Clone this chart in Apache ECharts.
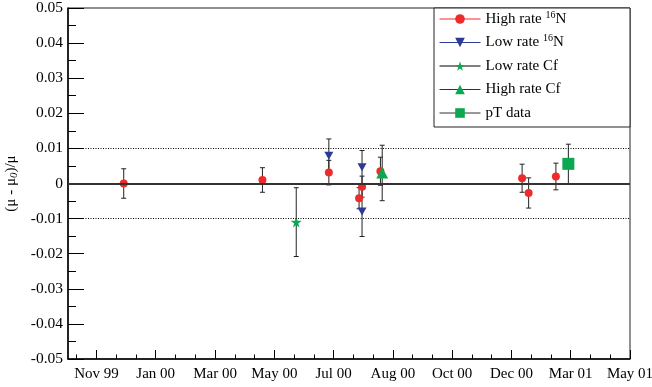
<!DOCTYPE html>
<html>
<head>
<meta charset="utf-8">
<script src="https://cdn.jsdelivr.net/npm/echarts@6/dist/echarts.min.js"></script>
<style>
  html, body { margin: 0; padding: 0; background: #fff; }
  #main { width: 652px; height: 387px; }
</style>
</head>
<body>
<div id="main"></div>
<script>
// x axis: month labels sit at 0..9 (evenly spaced, as on the original time axis)
var monthLabels = ['Nov 99', 'Jan 00', 'Mar 00', 'May 00', 'Jul 00', 'Aug 00', 'Oct 00', 'Dec 00', 'Mar 01', 'May 01'];
var majorTicks = [0, 1, 2, 3, 4, 5, 6, 7, 8, 9];
var minorTicks = [-1/3, 1/3, 2/3, 4/3, 5/3, 7/3, 8/3, 10/3, 11/3, 13/3, 14/3, 16/3, 17/3, 19/3, 20/3, 22/3, 23/3, 25/3, 26/3];

// High rate 16N
var highNx   = [0.46, 2.80, 3.92, 4.48, 4.43, 4.79, 7.18, 7.29, 7.75];
var highNy   = [0.0000, 0.0010, 0.0031, -0.0009, -0.0042, 0.0035, 0.0015, -0.0027, 0.0020];
var highNerr = [0.0042, 0.0035, 0.0035, 0.0030, 0.0030, 0.0040, 0.0040, 0.0043, 0.0038];

// Low rate 16N
var lowNx   = [3.92, 4.48, 4.48];
var lowNy   = [0.0079, 0.0046, -0.0080];
var lowNerr = [0.0048, 0.0048, 0.0071];

// Low rate Cf
var lowCfx   = [3.37];
var lowCfy   = [-0.0110];
var lowCferr = [0.0098];

// High rate Cf
var highCfx   = [4.82];
var highCfy   = [0.0030];
var highCferr = [0.0079];

// pT data
var ptx   = [7.96];
var pty   = [0.0056];
var pterr = [0.0056];

var serif = 'Liberation Serif';
var red = '#ee2b2b', blue = '#2b3a96', green = '#0aa850';
var starPath = 'path://M50,0 L61,35 L98,35 L68,57 L79,91 L50,70 L21,91 L32,57 L2,35 L39,35 Z';
var downTri = 'path://M0,0 L10,0 L5,9 Z';

function pts(xs, ys) {
  var out = [];
  for (var i = 0; i < xs.length; i++) out.push([xs[i], ys[i]]);
  return out;
}
function errs(xs, ys, es) {
  var out = [];
  for (var i = 0; i < xs.length; i++) out.push([xs[i], ys[i], es[i]]);
  return out;
}

var allErr = [].concat(
  errs(highNx, highNy, highNerr),
  errs(lowNx, lowNy, lowNerr),
  errs(lowCfx, lowCfy, lowCferr),
  errs(highCfx, highCfy, highCferr),
  errs(ptx, pty, pterr)
);

function drawErr(params, api) {
  var x = api.value(0), y = api.value(1), e = api.value(2);
  var t = api.coord([x, y + e]);
  var b = api.coord([x, y - e]);
  var st = { stroke: '#222', lineWidth: 1 };
  return {
    type: 'group',
    children: [
      { type: 'line', shape: { x1: t[0], y1: t[1], x2: b[0], y2: b[1] }, style: st },
      { type: 'line', shape: { x1: t[0] - 2.5, y1: t[1], x2: t[0] + 2.5, y2: t[1] }, style: st },
      { type: 'line', shape: { x1: b[0] - 2.5, y1: b[1], x2: b[0] + 2.5, y2: b[1] }, style: st }
    ]
  };
}

var hidden = { opacity: 0, width: 0 };

var myChart = echarts.init(document.getElementById('main'));
myChart.setOption({
  animation: false,
  grid: {
    left: 68, right: 22, top: 8, bottom: 28,
    outerBoundsMode: 'none',
    show: true, borderColor: '#222', borderWidth: 1
  },
  xAxis: [{
    type: 'value',
    min: -0.48, max: 9,
    position: 'bottom',
    splitLine: { show: false },
    axisLine: { onZero: false, lineStyle: { color: '#000', width: 1.5 } },
    axisTick: { inside: true, length: 9, customValues: majorTicks, lineStyle: { color: '#000' } },
    axisLabel: {
      customValues: majorTicks,
      margin: 8,
      fontFamily: serif, fontSize: 15, color: '#000',
      formatter: function (v) { return monthLabels[Math.round(v)]; }
    }
  }, {
    type: 'value',
    min: -0.48, max: 9,
    position: 'bottom',
    splitLine: { show: false },
    axisLine: { show: false, onZero: false },
    axisLabel: { show: false },
    axisTick: { inside: true, length: 4.5, customValues: minorTicks, lineStyle: { color: '#000' } }
  }],
  yAxis: {
    type: 'value',
    min: -0.05, max: 0.05, interval: 0.01,
    splitLine: { show: false },
    axisLine: { show: true, onZero: false, lineStyle: { color: '#000', width: 1.5 } },
    axisTick: { inside: true, length: 16, lineStyle: { color: '#000' } },
    minorTick: { show: true, splitNumber: 2, length: 8, lineStyle: { color: '#000' } },
    axisLabel: {
      margin: 5,
      fontFamily: serif, fontSize: 15.5, color: '#000',
      formatter: function (v) { return Math.abs(v) < 1e-9 ? '0' : v.toFixed(2); }
    },
    name: '(μ - μ{s|0})/μ',
    nameLocation: 'middle',
    nameRotate: 90,
    nameGap: 44,
    nameTextStyle: {
      fontFamily: serif, fontSize: 15, color: '#000', lineHeight: 18,
      rich: { s: { fontFamily: serif, fontSize: 11, fontStyle: 'italic', verticalAlign: 'bottom', lineHeight: 12 } }
    }
  },
  graphic: [{
    type: 'rect', z: 3,
    shape: { x: 434, y: 8, width: 196, height: 119 },
    style: { fill: '#fff', stroke: '#222', lineWidth: 1 }
  }],
  legend: {
    orient: 'vertical',
    left: 439, top: 10,
    padding: 0,
    itemWidth: 41, itemHeight: 12, itemGap: 5.5,
    z: 5,
    textStyle: {
      fontFamily: serif, fontSize: 15, color: '#000', lineHeight: 18,
      rich: { sup: { fontFamily: serif, fontSize: 10, color: '#000', verticalAlign: 'top', lineHeight: 11 } }
    },
    formatter: function (name) {
      return name.replace('16N', '{sup|16}N');
    },
    data: [
      { name: 'High rate 16N', lineStyle: { color: red, width: 1, opacity: 1 } },
      { name: 'Low rate 16N', lineStyle: { color: blue, width: 1, opacity: 1 } },
      { name: 'Low rate Cf', lineStyle: { color: '#000', width: 1, opacity: 1 } },
      { name: 'High rate Cf', lineStyle: { color: '#333', width: 1, opacity: 1 } },
      { name: 'pT data', lineStyle: { color: '#333', width: 1, opacity: 1 } }
    ]
  },
  series: [{
    type: 'custom',
    name: 'errors',
    xAxisIndex: 0,
    z: 2,
    renderItem: drawErr,
    data: allErr,
    silent: true
  }, {
    type: 'line',
    name: 'High rate 16N',
    z: 3,
    data: pts(highNx, highNy),
    symbol: 'circle', symbolSize: 8,
    itemStyle: { color: red },
    lineStyle: hidden,
    markLine: {
      silent: true, symbol: 'none', label: { show: false }, animation: false,
      data: [
        { yAxis: 0.01, lineStyle: { type: [1, 1.5], color: '#000', width: 1 } },
        { yAxis: -0.01, lineStyle: { type: [1, 1.5], color: '#000', width: 1 } },
        { yAxis: 0, lineStyle: { type: 'solid', color: '#333', width: 2 } }
      ]
    }
  }, {
    type: 'line',
    name: 'Low rate 16N',
    z: 3,
    data: pts(lowNx, lowNy),
    symbol: downTri, symbolSize: [9, 8],
    itemStyle: { color: blue },
    lineStyle: hidden
  }, {
    type: 'line',
    name: 'Low rate Cf',
    z: 3,
    data: pts(lowCfx, lowCfy),
    symbol: starPath, symbolSize: 11,
    itemStyle: { color: green },
    lineStyle: hidden
  }, {
    type: 'line',
    name: 'High rate Cf',
    z: 3,
    data: pts(highCfx, highCfy),
    symbol: 'triangle', symbolSize: [12, 11],
    itemStyle: { color: green },
    lineStyle: hidden
  }, {
    type: 'line',
    name: 'pT data',
    z: 3,
    data: pts(ptx, pty),
    symbol: 'rect', symbolSize: 12,
    itemStyle: { color: green },
    lineStyle: hidden
  }]
});
</script>
</body>
</html>
